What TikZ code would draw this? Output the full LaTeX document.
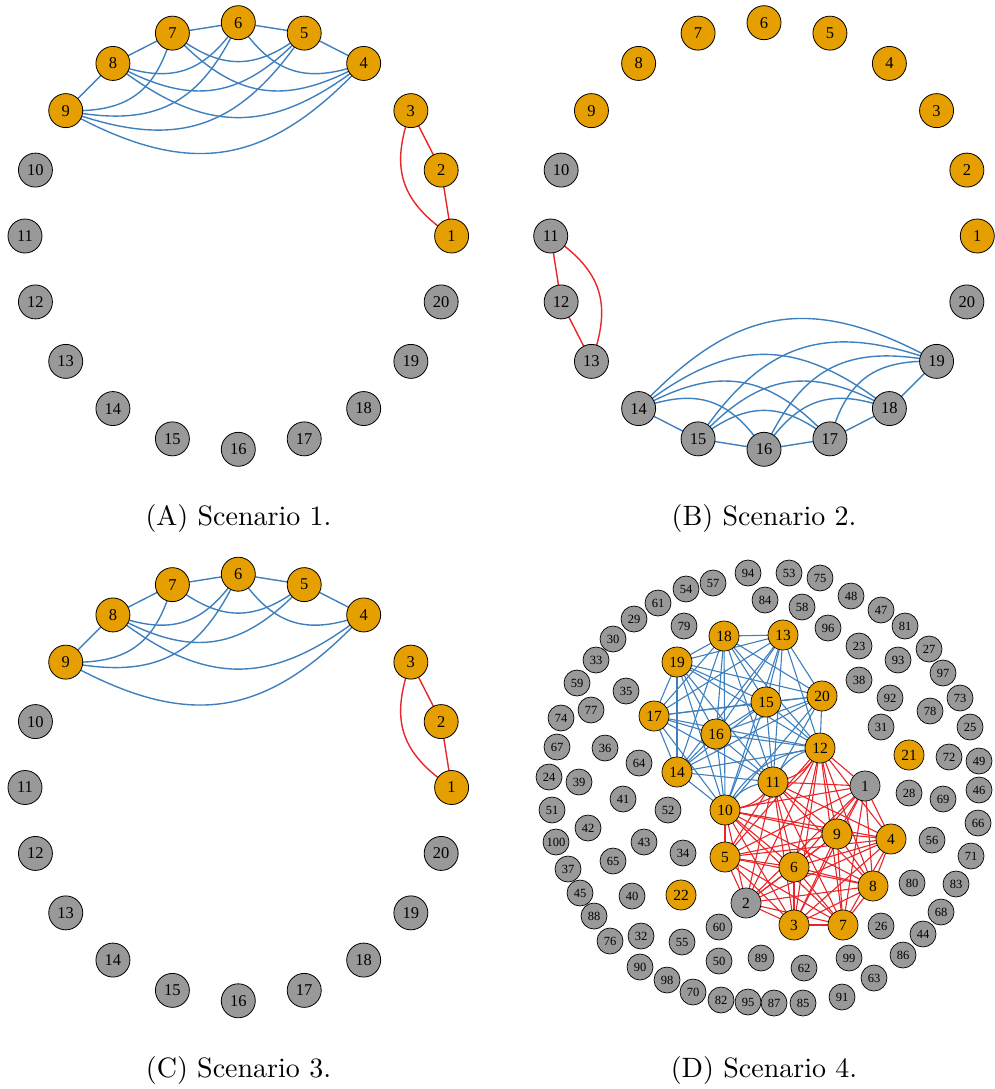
\documentclass[tikz,border=0pt]{standalone}
\usepackage{fontspec}
\newfontfamily\tms{Liberation Serif}
\newfontfamily\capfont{lmroman10-regular.otf}
\usetikzlibrary{backgrounds}
\definecolor{orng}{HTML}{E69F00}
\definecolor{gry}{HTML}{999999}
\definecolor{eblue}{HTML}{3E80BE}
\definecolor{ered}{HTML}{E8262A}
\tikzset{
  vA/.style={circle, draw=black, line width=0.8pt, minimum size=34pt, inner sep=0pt, font=\tms\fontsize{16.5}{16.5}\selectfont},
  vbig/.style={circle, draw=black, line width=0.7pt, minimum size=30pt, inner sep=0pt, font=\tms\fontsize{15.5}{15.5}\selectfont},
  vsm/.style={circle, draw=black, line width=0.7pt, minimum size=26pt, inner sep=0pt, fill=gry, font=\tms\fontsize{12.5}{12.5}\selectfont},
  eb/.style={draw=eblue, line width=1.4pt},
  er/.style={draw=ered, line width=1.4pt},
  ebd/.style={draw=eblue, line width=1.1pt},
  erd/.style={draw=ered, line width=1.1pt},
  cv/.style={bend right=38, looseness=1.2},
  captxt/.style={font=\capfont\fontsize{28}{32}\selectfont, inner sep=0pt}
}
\begin{document}
\begin{tikzpicture}[x=1pt, y=-1pt]
\useasboundingbox (0,0) rectangle (994,1089);
% ---------- circular panels A, B, C ----------
\foreach \p/\cx/\cy in {a/238.3/236, b/764/236, c/238.3/787.5}{
  \foreach \k in {1,...,20}{
    \pgfmathsetmacro\ax{\cx+213.3*cos((\k-1)*18)}
    \pgfmathsetmacro\ay{\cy-213.3*sin((\k-1)*18)}
    \ifnum\k<10 \def\fc{orng}\else\def\fc{gry}\fi
    \node[vA, fill=\fc] (\p\k) at (\ax,\ay) {\k};
  }
}
\begin{scope}[on background layer]
  % panel A
  \foreach \i/\j in {9/8,9/7,9/6,9/5,9/4,8/7,8/6,8/5,8/4,7/6,7/5,7/4,6/5,6/4,5/4}{
    \pgfmathtruncatemacro\dd{\i-\j}
    \ifnum\dd=1 \draw[eb] (a\i.center) -- (a\j.center);
    \else \draw[eb] (a\i.center) to[cv] (a\j.center); \fi
  }
  \draw[er] (a3.center) -- (a2.center);
  \draw[er] (a2.center) -- (a1.center);
  \draw[er] (a3.center) to[cv] (a1.center);
  % panel B
  \foreach \i/\j in {19/18,19/17,19/16,19/15,19/14,18/17,18/16,18/15,18/14,17/16,17/15,17/14,16/15,16/14,15/14}{
    \pgfmathtruncatemacro\dd{\i-\j}
    \ifnum\dd=1 \draw[eb] (b\i.center) -- (b\j.center);
    \else \draw[eb] (b\i.center) to[cv] (b\j.center); \fi
  }
  \draw[er] (b13.center) -- (b12.center);
  \draw[er] (b12.center) -- (b11.center);
  \draw[er] (b13.center) to[cv] (b11.center);
  % panel C
  \foreach \i/\j in {9/8,9/7,9/6,9/4,8/7,8/6,8/5,8/4,7/6,7/5,6/5,6/4,5/4}{
    \pgfmathtruncatemacro\dd{\i-\j}
    \ifnum\dd=1 \draw[eb] (c\i.center) -- (c\j.center);
    \else \draw[eb] (c\i.center) to[cv] (c\j.center); \fi
  }
  \draw[er] (c3.center) -- (c2.center);
  \draw[er] (c2.center) -- (c1.center);
  \draw[er] (c3.center) to[cv] (c1.center);
\end{scope}
% ---------- panel D ----------
\foreach \n/\x/\y in {1/865/786, 2/746/903}{
  \node[vbig, fill=gry] (d\n) at (\x,\y) {\n};
}
\foreach \n/\x/\y in {3/794/925, 4/891/839, 5/725/857, 6/794/867, 7/843/925, 8/873/886, 9/837/834, 10/725/810, 11/773/782, 12/820/748, 13/783/635, 14/677/772, 15/766/702, 16/716/734, 17/654/716, 18/724/636, 19/677/662, 20/822/696, 21/909/755, 22/681/895}{
  \node[vbig, fill=orng] (d\n) at (\x,\y) {\n};
}
\foreach \n/\x/\y in {23/859/646, 24/549/777, 25/970/727, 26/881/926, 27/929/649, 28/909/793, 29/634/619, 30/613/639, 31/881/727, 32/641/936, 33/596/660, 34/683/853, 35/626/691, 36/605/748, 37/568/869, 38/859/680, 39/579/782, 40/632/896, 41/623/799, 42/588/828, 43/644/842, 44/923/934, 45/580/893, 46/979/790, 47/881/610, 48/851/596, 49/979/761, 50/719/961, 51/552/810, 52/668/810, 53/789/573, 54/686/589, 55/682/942, 56/932/840, 57/713/583, 58/802/607, 59/577/683, 60/719/927, 61/658/603, 62/804/968, 63/874/978, 64/639/763, 65/613/861, 66/978/823, 67/557/747, 68/941/912, 69/943/799, 70/693/992, 71/971/856, 72/949/757, 73/960/698, 74/561/718, 75/820/578, 76/610/941, 77/591/710, 78/930/711, 79/684/626, 80/912/883, 81/905/626, 82/721/1000, 83/956/884, 84/765/600, 85/803/1003, 86/903/955, 87/774/1003, 88/594/916, 89/761/958, 90/640/967, 91/842/997, 92/890/698, 93/898/660, 94/748/573, 95/748/1002, 96/828/628, 97/943/673, 98/667/980, 99/849/958, 100/556/842}{
  \node[vsm] (d\n) at (\x,\y) {\n};
}
\begin{scope}[on background layer]
  \foreach \i in {2,...,12}{
    \pgfmathtruncatemacro\jm{\i-1}
    \foreach \j in {1,...,\jm}{
      \ifnum\j>9 \draw[erd] (d\j.center) to[bend right=28] (d\i.center);
      \else \draw[erd] (d\j.center) -- (d\i.center); \fi
    }
  }
  \foreach \i in {11,...,20}{
    \pgfmathtruncatemacro\jm{\i-1}
    \foreach \j in {10,...,\jm}{
      \ifnum\i<13 \draw[ebd] (d\j.center) to[bend left=28] (d\i.center);
      \else \draw[ebd] (d\j.center) -- (d\i.center); \fi
    }
  }
\end{scope}
% ---------- captions ----------
\node[captxt] (capA) at (238.5,518) {(A) Scenario 1.};
\node[captxt] (capB) at (764,518) {(B) Scenario 2.};
\node[captxt] (capC) at (238.5,1070) {(C) Scenario 3.};
\node[captxt] (capD) at (764,1070) {(D) Scenario 4.};
\end{tikzpicture}
\end{document}
